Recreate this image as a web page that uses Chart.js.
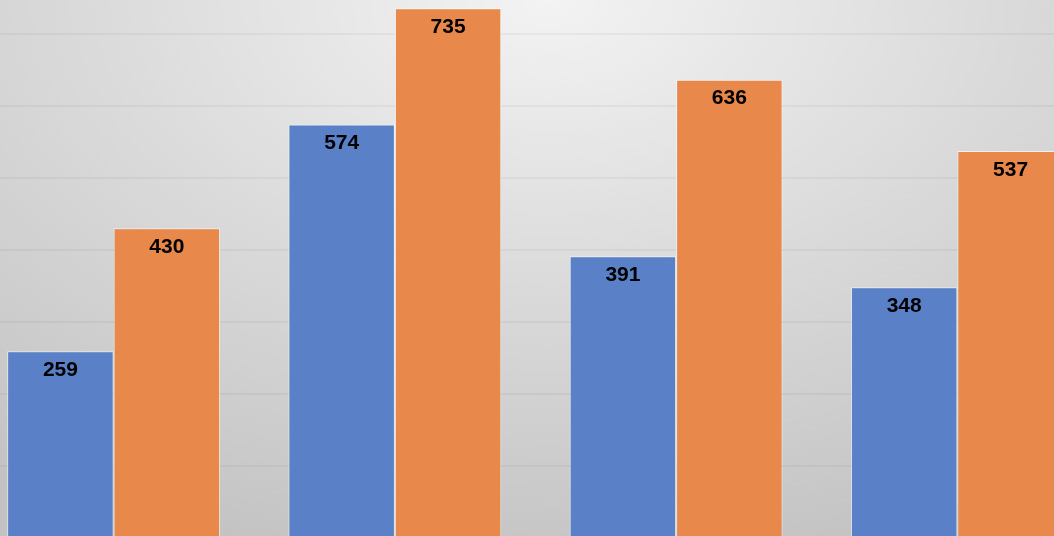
<!DOCTYPE html>
<html>
<head>
<meta charset="utf-8">
<script src="https://cdn.jsdelivr.net/npm/chart.js@4.4.0/dist/chart.umd.min.js"></script>
<style>
  html, body { margin: 0; padding: 0; }
  body {
    width: 1054px; height: 536px; overflow: hidden; position: relative;
    background: radial-gradient(ellipse 90% 110% at 52% 0%, #f3f3f3 0%, #dcdcdc 45%, #c2c2c2 100%);
  }
  #wrap { position: absolute; left: -27px; top: 0; width: 1125px; height: 538px; }
</style>
</head>
<body>
<div id="wrap"><canvas id="myChart"></canvas></div>
<script>
// values
var categories = ['A', 'B', 'C', 'D'];
var seriesOne = [259, 574, 391, 348];
var seriesTwo = [430, 735, 636, 537];
var gridTicks = [100, 200, 300, 400, 500, 600, 700];

// draw the value inside the top of each bar
var valueLabels = {
    id: 'valueLabels',
    afterDatasetsDraw: function (chart) {
        var ctx = chart.ctx;
        ctx.save();
        ctx.font = 'bold 21px "Liberation Sans", Arial, sans-serif';
        ctx.fillStyle = '#000';
        ctx.textAlign = 'center';
        ctx.textBaseline = 'middle';
        chart.data.datasets.forEach(function (ds, i) {
            chart.getDatasetMeta(i).data.forEach(function (bar, j) {
                ctx.fillText(ds.data[j], bar.x, bar.y + 19);
            });
        });
        ctx.restore();
    }
};

var ctx = document.getElementById('myChart').getContext('2d');
var myChart = new Chart(ctx, {
    type: 'bar',
    data: {
        labels: categories,
        datasets: [{
            data: seriesOne,
            backgroundColor: '#5a80c7',
            borderColor: 'rgba(255,255,255,0.6)',
            borderWidth: 1,
            categoryPercentage: 0.757,
            barPercentage: 1
        }, {
            data: seriesTwo,
            backgroundColor: '#e8884a',
            borderColor: 'rgba(255,255,255,0.6)',
            borderWidth: 1,
            categoryPercentage: 0.757,
            barPercentage: 1
        }]
    },
    options: {
        responsive: true,
        maintainAspectRatio: false,
        animation: false,
        layout: { padding: 0 },
        plugins: {
            legend: { display: false },
            tooltip: { enabled: false }
        },
        scales: {
            x: {
                display: false,
                grid: { display: false }
            },
            y: {
                min: 0,
                max: 746.6,
                afterBuildTicks: function (axis) {
                    axis.ticks = gridTicks.map(function (v) { return { value: v }; });
                },
                ticks: { display: false },
                border: { display: false },
                grid: {
                    color: 'rgba(0,0,0,0.04)',
                    lineWidth: 2,
                    drawTicks: false
                }
            }
        }
    },
    plugins: [valueLabels]
});
</script>
</body>
</html>
